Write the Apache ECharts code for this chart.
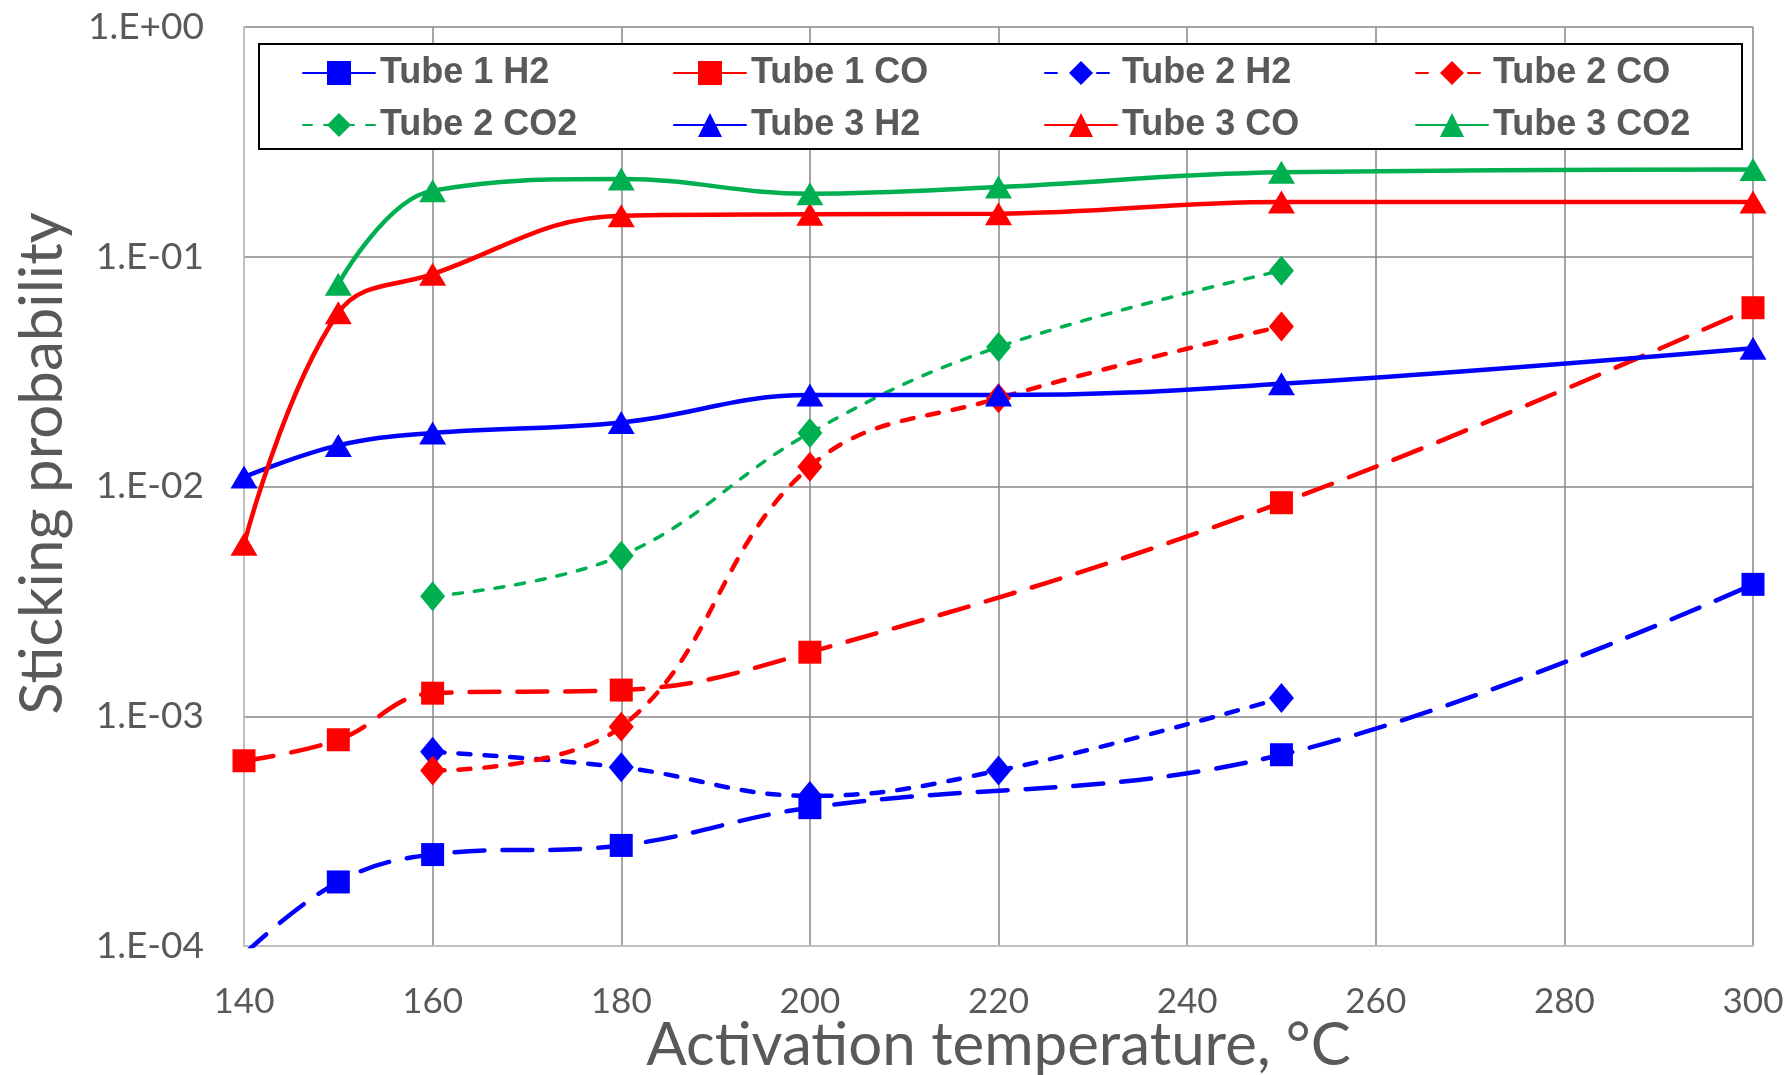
<!DOCTYPE html>
<html>
<head>
<meta charset="utf-8">
<script src="https://cdn.jsdelivr.net/npm/echarts@6/dist/echarts.min.js"></script>
<style>
html,body{margin:0;padding:0;background:#fff;}
#chart{width:1789px;height:1075px;}
</style>
</head>
<body>
<div id="chart"></div>
<script>
// ---- Data ----
const xTicks = [140, 160, 180, 200, 220, 240, 260, 280, 300];
const yTickLabels = ['1.E-04', '1.E-03', '1.E-02', '1.E-01', '1.E+00'];

const tube1H2 = [[140, 9.2e-5], [150, 1.9e-4], [160, 2.5e-4], [180, 2.74e-4], [200, 4.0e-4], [250, 6.8e-4], [300, 3.75e-3]];
const tube1CO = [[140, 6.4e-4], [150, 7.9e-4], [160, 1.26e-3], [180, 1.3e-3], [200, 1.9e-3], [250, 8.5e-3], [300, 0.06]];
const tube2H2 = [[160, 7.0e-4], [180, 6.0e-4], [200, 4.5e-4], [220, 5.8e-4], [250, 1.2e-3]];
const tube2CO = [[160, 5.8e-4], [180, 9.0e-4], [200, 0.0122], [220, 0.0242], [250, 0.0497]];
const tube2CO2 = [[160, 3.33e-3], [180, 5.0e-3], [200, 0.0171], [220, 0.0405], [250, 0.087]];
const tube3H2 = [[140, 0.011], [150, 0.0151], [160, 0.0171], [180, 0.019], [200, 0.025], [220, 0.025], [250, 0.028], [300, 0.04]];
const tube3CO = [[140, 5.6e-3], [150, 0.057], [160, 0.084], [180, 0.151], [200, 0.153], [220, 0.154], [250, 0.173], [300, 0.173]];
const tube3CO2 = [[150, 0.076], [160, 0.194], [180, 0.218], [200, 0.188], [220, 0.201], [250, 0.233], [300, 0.24]];

const names = ['Tube 1 H2', 'Tube 1 CO', 'Tube 2 H2', 'Tube 2 CO', 'Tube 2 CO2', 'Tube 3 H2', 'Tube 3 CO', 'Tube 3 CO2'];

// ---- Styles ----
const BLUE = '#0000FF', RED = '#FF0000', GREEN = '#00B050';
const GRAY_TXT = '#595959';

function mk(name, data, color, symbol, symbolSize, dash, width) {
  return {
    name: name, type: 'line', data: data, smooth: 0.4,
    symbol: symbol, symbolSize: symbolSize, showSymbol: true,
    itemStyle: { color: color },
    lineStyle: { color: color, width: width, type: dash, cap: 'round' },
    clip: true, z: 3
  };
}

const series = [
  mk(names[0], tube1H2, BLUE, 'rect', 23, [30, 18], 4.5),
  mk(names[1], tube1CO, RED, 'rect', 23, [30, 18], 4.5),
  mk(names[2], tube2H2, BLUE, 'diamond', [25, 30], [12, 14], 4.5),
  mk(names[3], tube2CO, RED, 'diamond', [25, 30], [12, 14], 4.5),
  mk(names[4], tube2CO2, GREEN, 'diamond', [25, 30], [9, 12], 3.5),
  mk(names[5], tube3H2, BLUE, 'triangle', [27, 23], 'solid', 4.5),
  mk(names[6], tube3CO, RED, 'triangle', [27, 23], 'solid', 4.5),
  mk(names[7], tube3CO2, GREEN, 'triangle', [27, 23], 'solid', 4.5)
];

const colLeft = [302, 673, 1044, 1415];
const rowTop = [70, 122];
const legends = names.map(function (n, i) {
  return {
    data: [n], left: colLeft[i % 4], top: rowTop[Math.floor(i / 4)] - 15,
    padding: 0, itemWidth: 72, itemHeight: 30, itemGap: 0, z: 20,
    textStyle: { fontFamily: 'Liberation Sans, Arial', fontWeight: 'bold', fontSize: 36, color: GRAY_TXT, padding: [0, 0, 0, 0] },
    selectedMode: false
  };
});

const chart = echarts.init(document.getElementById('chart'), null, { renderer: 'canvas' });
chart.setOption({
  animation: false,
  backgroundColor: '#fff',
  grid: { left: 244, right: 36, top: 27, bottom: 129, containLabel: false, outerBoundsMode: 'none' },
  legend: legends,
  graphic: [{
    type: 'rect', left: 258, top: 43, z: 5, silent: true,
    shape: { width: 1483, height: 105 },
    style: { fill: '#fff', stroke: '#000', lineWidth: 2 }
  }],
  xAxis: {
    type: 'value', min: xTicks[0], max: xTicks[xTicks.length - 1], interval: 20,
    name: 'Activation temperature, °C', nameLocation: 'middle', nameGap: 70, nameMoveOverlap: false,
    nameTextStyle: { fontFamily: 'Lato', fontSize: 60, color: GRAY_TXT },
    axisLine: { show: true, lineStyle: { color: '#bfbfbf', width: 2 } },
    axisTick: { show: false },
    axisLabel: { fontFamily: 'Lato', fontSize: 35, color: GRAY_TXT, margin: 38 },
    splitLine: { show: true, lineStyle: { color: '#878787', width: 1.5 } }
  },
  yAxis: {
    type: 'log', logBase: 10, min: 1e-4, max: 1,
    name: 'Sticking probability', nameLocation: 'middle', nameGap: 171, nameRotate: 90, nameMoveOverlap: false,
    nameTextStyle: { fontFamily: 'Lato', fontSize: 60, color: GRAY_TXT, padding: [0, 0, 0, 46] },
    axisLine: { show: true, lineStyle: { color: '#bfbfbf', width: 2 } },
    axisTick: { show: false },
    axisLabel: {
      fontFamily: 'Lato', fontSize: 37, color: GRAY_TXT, margin: 40,
      formatter: function (v) {
        const e = Math.round(Math.log10(v));
        return yTickLabels[e + 4];
      }
    },
    splitLine: { show: true, lineStyle: { color: '#878787', width: 1.5 } }
  },
  series: series
});
</script>
</body>
</html>
